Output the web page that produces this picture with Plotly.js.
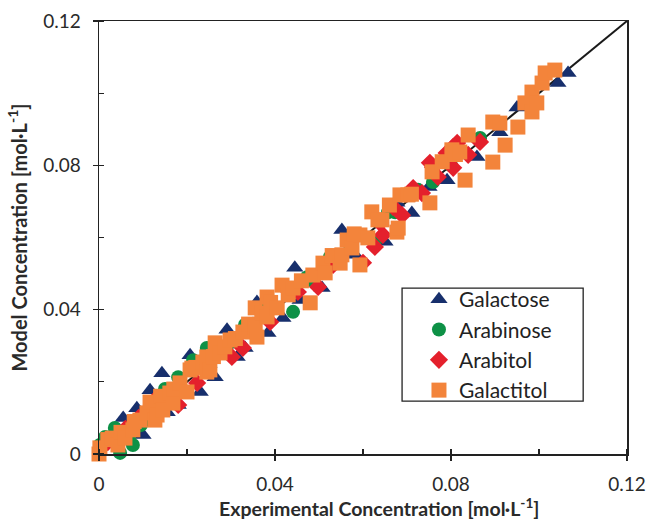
<!DOCTYPE html>
<html>
<head>
<meta charset="utf-8">
<script src="https://cdn.plot.ly/plotly-3.0.1.min.js"></script>
<style>html,body{margin:0;padding:0;background:#fff;}#chart{width:649px;height:522px;}</style>
</head>
<body>
<div id="chart"></div>
<script>
// Parity line (model = experiment)
var parityLine = [0, 0.12];

// Galactose
var galactoseExp = [0.002,0.005,0.0055,0.0086,0.010,0.0116,0.012,0.0143,0.0155,0.018,0.0207,0.023,0.025,0.0264,0.0291,0.0314,0.0332,0.035,0.0359,0.0384,0.0418,0.0445,0.0457,0.048,0.0507,0.0552,0.0582,0.060,0.065,0.0677,0.070,0.0711,0.075,0.0791,0.0786,0.0859,0.0911,0.095,0.1043,0.1066];
var galactoseMod = [0.003,0.005,0.010,0.0127,0.0053,0.0177,0.012,0.0224,0.0116,0.0136,0.0274,0.0172,0.025,0.0213,0.0344,0.0269,0.0294,0.036,0.0421,0.0335,0.0377,0.0516,0.0427,0.049,0.046,0.0621,0.0552,0.060,0.0588,0.0696,0.071,0.0668,0.074,0.0759,0.0823,0.0823,0.0892,0.096,0.1028,0.1056];

// Arabinose
var arabinoseExp = [0.0002,0.0048,0.0077,0.0036,0.0014,0.0068,0.0095,0.0107,0.0125,0.015,0.018,0.0214,0.0245,0.030,0.0332,0.0373,0.0441,0.0475,0.0473,0.0525,0.057,0.0627,0.0657,0.0673,0.0725,0.0759,0.080,0.0866];
var arabinoseMod = [0.0025,0.0003,0.0025,0.0072,0.0047,0.0047,0.008,0.0095,0.012,0.018,0.0213,0.026,0.0294,0.031,0.0358,0.040,0.0394,0.0482,0.049,0.0546,0.058,0.0588,0.067,0.067,0.0732,0.0754,0.080,0.0876];

// Arabitol
var arabitolExp = [0.002,0.006,0.009,0.0127,0.018,0.0223,0.025,0.0302,0.0327,0.035,0.0389,0.0423,0.0452,0.0498,0.0532,0.057,0.060,0.0627,0.0645,0.0639,0.0668,0.0689,0.0714,0.0734,0.0759,0.077,0.0752,0.0805,0.079,0.0814,0.0839,0.0866,0.0805];
var arabitolMod = [0.0033,0.007,0.010,0.015,0.0136,0.0197,0.026,0.0269,0.0294,0.035,0.0366,0.046,0.0449,0.0463,0.0524,0.059,0.053,0.0574,0.0607,0.064,0.0685,0.0662,0.0737,0.0723,0.0795,0.0768,0.0807,0.0793,0.0834,0.0862,0.0829,0.0865,0.0851];

// Galactitol
var galactitolExp = [0,0.0002,0.002,0.003,0.0043,0.005,0.0059,0.0077,0.008,0.0093,0.0109,0.0116,0.0127,0.0132,0.014,0.0145,0.0161,0.0168,0.017,0.0184,0.020,0.0207,0.0211,0.022,0.0236,0.0245,0.0245,0.0252,0.026,0.0264,0.0275,0.0286,0.0298,0.031,0.0327,0.034,0.0355,0.0359,0.0355,0.037,0.0382,0.0382,0.039,0.0405,0.0416,0.043,0.0441,0.046,0.048,0.0486,0.0509,0.0514,0.053,0.0548,0.0552,0.0564,0.0575,0.058,0.0593,0.0593,0.0611,0.062,0.0643,0.0634,0.066,0.0677,0.068,0.0684,0.0702,0.071,0.0752,0.0757,0.078,0.0802,0.081,0.082,0.0832,0.0839,0.0895,0.0895,0.0911,0.0923,0.0952,0.0968,0.0984,0.0984,0.0995,0.1007,0.1014,0.1036];
var galactitolMod = [0,0.0017,0.004,0.0044,0.0025,0.006,0.0044,0.0067,0.009,0.0094,0.0114,0.0144,0.0094,0.0108,0.016,0.0122,0.0169,0.0141,0.018,0.0197,0.0172,0.0233,0.0238,0.024,0.0255,0.0227,0.0269,0.0233,0.027,0.0308,0.028,0.0297,0.0316,0.032,0.0338,0.036,0.0352,0.0324,0.0405,0.039,0.038,0.0435,0.042,0.0405,0.0468,0.0441,0.046,0.048,0.0419,0.0496,0.0529,0.0502,0.055,0.0529,0.0552,0.0593,0.0571,0.061,0.0607,0.0524,0.0599,0.0671,0.0649,0.0649,0.069,0.0615,0.0626,0.0718,0.0718,0.072,0.0696,0.0782,0.081,0.0843,0.083,0.0837,0.0759,0.0884,0.0809,0.092,0.0917,0.0856,0.0906,0.0973,0.0948,0.1003,0.0973,0.1028,0.1056,0.1064];

var xTicks = [0, 0.04, 0.08, 0.12];
var xTickLabels = ['0', '0.04', '0.08', '0.12'];
var yTicks = [0, 0.04, 0.08, 0.12];
var yTickLabels = ['0', '0.04', '0.08', '0.12'];

var FONT = 'Lato, "Open Sans", sans-serif';

var traces = [
  {x: parityLine, y: parityLine, mode: 'lines', line: {color: '#1a1a1a', width: 2}, showlegend: false, hoverinfo: 'skip'},
  {x: galactoseExp, y: galactoseMod, mode: 'markers', name: 'Galactose', cliponaxis: false,
   marker: {symbol: 'triangle-up', size: 15, color: '#172f6c'}},
  {x: arabinoseExp, y: arabinoseMod, mode: 'markers', name: 'Arabinose', cliponaxis: false,
   marker: {symbol: 'circle', size: 14, color: '#0d9146'}},
  {x: arabitolExp, y: arabitolMod, mode: 'markers', name: 'Arabitol', cliponaxis: false,
   marker: {symbol: 'diamond', size: 14, color: '#e4202c'}},
  {x: galactitolExp, y: galactitolMod, mode: 'markers', name: 'Galactitol', cliponaxis: false,
   marker: {symbol: 'square', size: 15, color: '#f3843b'}},
  // invisible trace on overlay axes for inward major ticks
  {x: parityLine, y: parityLine, xaxis: 'x2', yaxis: 'y2', mode: 'lines', line: {width: 0}, showlegend: false, hoverinfo: 'skip', opacity: 0}
];

var axisCommon = {
  range: [0, 0.12], showgrid: false, zeroline: false,
  showline: true, mirror: true, linecolor: '#222', linewidth: 1.5,
  ticks: 'outside', ticklen: 5, tickwidth: 1.3, tickcolor: '#222',
  tickfont: {family: FONT, size: 19, color: '#2a2a2a'},
  minor: {dtick: 0.02, tick0: 0, ticks: 'inside', ticklen: 5, tickwidth: 1.3, tickcolor: '#222'}
};

var layout = {
  width: 649, height: 522,
  margin: {l: 99, r: 22, t: 21, b: 68},
  paper_bgcolor: '#fff', plot_bgcolor: '#fff',
  font: {family: FONT, color: '#2a2a2a'},
  xaxis: Object.assign({}, axisCommon, {
    tickvals: xTicks, ticktext: xTickLabels, ticklabelstandoff: 8
  }),
  yaxis: Object.assign({}, axisCommon, {
    tickvals: yTicks, ticktext: yTickLabels, ticklabelstandoff: 8,
    title: {text: 'Model Concentration [mol·L<sup>-1</sup>]', font: {family: FONT, size: 20, color: '#2a2a2a', weight: 'bold'}, standoff: 10}
  }),
  xaxis2: {overlaying: 'x', range: [0, 0.12], showgrid: false, zeroline: false, showline: false, side: 'bottom',
    tickvals: xTicks, ticks: 'inside', ticklen: 5, tickwidth: 1.3, tickcolor: '#222', showticklabels: false},
  yaxis2: {overlaying: 'y', range: [0, 0.12], showgrid: false, zeroline: false, showline: false, side: 'left',
    tickvals: yTicks, ticks: 'inside', ticklen: 5, tickwidth: 1.3, tickcolor: '#222', showticklabels: false},
  annotations: [
    {text: 'Experimental Concentration [mol·L<sup>-1</sup>]', xref: 'paper', yref: 'paper', x: 0.53, y: -0.123,
     xanchor: 'center', yanchor: 'middle', showarrow: false,
     font: {family: FONT, size: 19.5, color: '#2a2a2a', weight: 'bold'}}
  ],
  shapes: [
    {type: 'rect', xref: 'paper', yref: 'paper', x0: 0.574, x1: 0.917, y0: 0.122, y1: 0.383,
     line: {color: '#222', width: 1.3}, fillcolor: 'rgba(255,255,255,1)', layer: 'above'}
  ],
  legend: {x: 0.606, y: 0.404, xanchor: 'left', yanchor: 'top', bgcolor: 'rgba(0,0,0,0)', borderwidth: 0,
    font: {family: FONT, size: 21, color: '#222'}},
  showlegend: true
};

Plotly.newPlot('chart', traces, layout, {staticPlot: true});
</script>
</body>
</html>
